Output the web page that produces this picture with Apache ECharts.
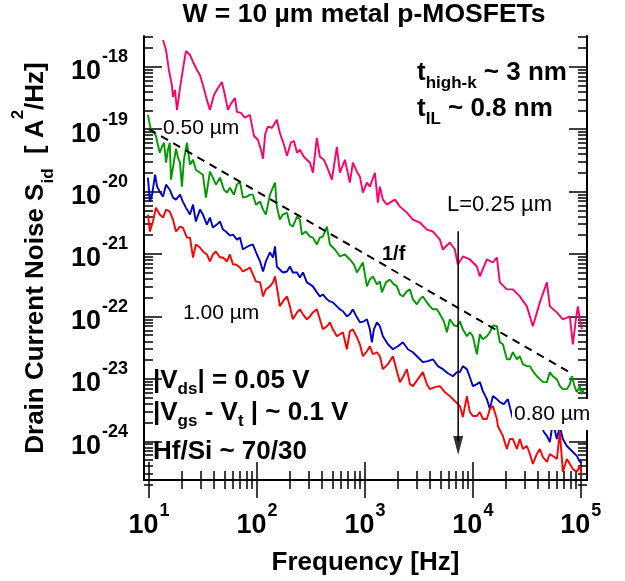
<!DOCTYPE html>
<html><head><meta charset="utf-8">
<script src="https://cdn.jsdelivr.net/npm/echarts@6/dist/echarts.min.js"></script>
<style>html,body{margin:0;padding:0;background:#fff}#c{width:625px;height:581px}</style>
</head><body><div id="c"></div>
<script>
// ---- data (frequency in Hz, noise in A^2/Hz) ----
const freqL025 = [13.5,14.4,15.3,16.3,16.7,17.4,18.2,19.4,20.6,22.0,24.0,25.6,27.8,29.7,31.6,34.4,36.7,40.0,43.6,47.4,50.5,53.9,57.4,62.6,65.3,71.1,77.4,86.1,93.8,102,109,114,119,126,138,153,163,178,190,206,220,235,250,272,290,310,330,359,383,417,445,495,550,587,653,726,774,843,899,958,1044,1112,1238,1319,1377,1468,1598,1704,1896,2109,2448,2783,3231,3751,4262,4950,5275,6124,6813,7260,8080,9380,10890,11610,13480,15320,16680,17780,20650,23460,27240,31620,35940,41730,48450,51640,59950,68130,79100,84300,89900,93800,97900,102200];
const noiseL025 = [2.67e-18,1.85e-18,8.86e-19,5.1e-19,3.28e-19,4.24e-19,2.03e-19,4.57e-19,8.86e-19,1.78e-18,1.54e-18,1.19e-18,8.86e-19,7.37e-19,5.1e-19,2.94e-19,2.03e-19,3.53e-19,4.57e-19,5.69e-19,3.53e-19,2.03e-19,2.54e-19,3.16e-19,1.89e-19,1.82e-19,1.52e-19,1.69e-19,7.82e-20,6.75e-20,4.67e-20,3.35e-20,8.11e-20,1.09e-19,1.05e-19,1.41e-19,8.73e-20,5.61e-20,3.75e-20,6.04e-20,6.50e-20,4.18e-20,4.67e-20,3.61e-20,3.23e-20,2.90e-20,2.00e-20,7.26e-20,3.61e-20,3.23e-20,2.50e-20,1.55e-20,5.21e-20,2.00e-20,3.23e-20,1.39e-20,2.90e-20,2.08e-20,1.73e-20,9.60e-21,1.39e-20,1.20e-20,2.00e-20,6.65e-21,1.20e-20,7.42e-21,6.18e-21,6.65e-21,7.42e-21,5.74e-21,4.60e-21,3.56e-21,3.19e-21,2.46e-21,2.29e-21,1.70e-21,1.18e-21,1.53e-21,1.18e-21,6.80e-22,9.12e-22,8.17e-22,6.31e-22,4.37e-22,8.17e-22,7.31e-22,8.79e-22,3.51e-22,2.71e-22,2.71e-22,2.09e-22,1.45e-22,6.95e-23,1.68e-22,3.51e-22,1.45e-22,1.16e-22,8.99e-23,1.0e-22,3.58e-23,8.99e-23,1.45e-22,8.99e-23,6.22e-23];

const freqL050 = [9.79,10.2,10.4,10.9,11.6,12.1,12.6,13.2,13.8,14.4,15.0,15.6,16.0,16.7,17.8,18.6,19.4,20.2,21.1,22.5,24.0,25.6,27.2,29.7,31.6,33.7,36.7,39.1,41.7,45.5,49.5,52.8,56.2,61.2,65.3,69.6,74.2,80.8,86.1,91.8,97.9,107,114,121,132,147,153,163,174,190,202,215,235,250,261,284,310,330,359,383,408,445,474,528,587,653,726,791,843,899,958,1044,1112,1186,1292,1377,1437,1565,1704,1817,1979,2109,2248,2448,2610,2783,3030,3231,3443,3751,3998,4262,4642,4950,5388,5745,6124,6670,7110,7580,8080,8800,9380,10000,10890,11610,12380,13480,14370,15320,16680,17780,18960,20650,22010,23460,25560,27240,29040,31620,33730,35940,39130,41730,44480,48450,51640,55040,59950,63900,68130,74200,79100,82500,88000,91800,97900,102200,106600];
const noiseL050 = [1.69e-19,1.17e-19,1.01e-19,9.06e-20,7.82e-20,5.61e-20,4.18e-20,5.21e-20,6.04e-20,2.90e-20,4.67e-20,6.04e-20,1.55e-20,2.41e-20,4.85e-20,3.48e-20,2.90e-20,1.20e-20,3.23e-20,6.04e-20,2.69e-20,3.23e-20,2.24e-20,2.00e-20,1.86e-20,7.99e-21,2.08e-20,1.67e-20,1.29e-20,1.67e-20,1.07e-20,9.60e-21,1.15e-20,8.92e-21,1.29e-20,1.44e-20,7.99e-21,8.29e-21,8.92e-21,8.92e-21,6.18e-21,6.90e-21,5.14e-21,4.28e-21,8.92e-21,1.39e-20,5.74e-21,3.56e-21,4.28e-21,4.60e-21,2.96e-21,2.75e-21,3.97e-21,3.56e-21,2.05e-21,2.29e-21,1.90e-21,1.83e-21,1.42e-21,1.83e-21,1.90e-21,2.75e-21,1.42e-21,1.18e-21,9.12e-22,9.82e-22,8.17e-22,6.80e-22,5.06e-22,6.08e-22,7.31e-22,3.03e-22,3.91e-22,4.37e-22,3.26e-22,3.64e-22,2.43e-22,3.51e-22,3.91e-22,3.38e-22,3.03e-22,2.25e-22,2.09e-22,2.52e-22,2.71e-22,1.88e-22,1.56e-22,1.88e-22,2.09e-22,1.68e-22,1.45e-22,1.30e-22,1.30e-22,1.08e-22,8.35e-23,5.57e-23,8.99e-23,7.21e-23,6.95e-23,8.35e-23,6.22e-23,4.81e-23,5.57e-23,4.81e-23,2.48e-23,5.18e-23,4.31e-23,4.81e-23,5.57e-23,7.21e-23,6.95e-23,3.86e-23,3.58e-23,2.06e-23,2.06e-23,2.67e-23,2.06e-23,2.30e-23,1.72e-23,1.60e-23,1.60e-23,1.33e-23,1.10e-23,9.89e-24,8.86e-24,8.86e-24,1.28e-23,1.10e-23,9.89e-24,7.64e-24,6.85e-24,6.85e-24,8.23e-24,1.10e-23,7.37e-24,6.13e-24,7.64e-24,5.69e-24,6.85e-24];

const freqL080 = [9.79,10.2,10.7,11.4,11.9,12.6,13.5,14.4,15.6,16.7,17.8,19.4,20.6,22.0,24.0,25.6,27.2,29.7,31.6,34.4,36.7,39.1,42.6,45.5,48.5,51.6,56.2,60.0,65.3,69.6,74.2,79.1,86.1,91.8,100,107,114,121,126,132,141,147,153,163,174,190,202,215,235,250,267,290,310,330,359,383,408,445,474,505,550,587,626,681,726,774,843,899,979,1044,1112,1161,1211,1292,1377,1468,1633,1817,2021,2248,2501,2783,3095,3443,3831,4262,4743,5275,5868,6530,7110,7580,8080,8800,9380,10000,10890,11610,12380,13480,14370,15320,16680,17780,19360,21090,23460,25560,28420,31620,35170,39130,41730,45450,48450,51640,55040,59950,63900,68130,74200,79100,84300,91800,97900,102200];
const noiseL080 = [1.67e-20,6.90e-21,8.92e-21,1.86e-20,1.20e-20,9.96e-21,8.29e-21,1.29e-20,1.07e-20,7.99e-21,7.42e-21,8.92e-21,6.90e-21,5.53e-21,4.28e-21,6.18e-21,3.31e-21,5.14e-21,4.28e-21,2.96e-21,3.83e-21,2.65e-21,2.96e-21,3.31e-21,2.46e-21,2.29e-21,1.97e-21,2.05e-21,1.70e-21,1.83e-21,1.18e-21,1.27e-21,1.37e-21,1.42e-21,9.82e-22,7.59e-22,5.25e-22,7.59e-22,8.17e-22,1.06e-21,8.79e-22,1.32e-21,6.31e-22,5.65e-22,5.06e-22,5.25e-22,6.31e-22,5.06e-22,5.06e-22,4.21e-22,5.06e-22,3.51e-22,3.26e-22,3.03e-22,2.43e-22,2.09e-22,2.25e-22,1.88e-22,1.74e-22,1.68e-22,1.45e-22,1.30e-22,1.21e-22,1.0e-22,1.08e-22,1.30e-22,9.67e-23,8.05e-23,8.35e-23,8.99e-23,6.22e-23,3.86e-23,6.22e-23,8.05e-23,6.95e-23,4.81e-23,3.58e-23,2.98e-23,3.33e-23,3.86e-23,2.98e-23,2.67e-23,2.22e-23,1.85e-23,1.92e-23,2.06e-23,1.60e-23,1.43e-23,1.23e-23,1.10e-23,1.28e-23,1.28e-23,1.60e-23,1.43e-23,1.06e-23,7.64e-24,8.23e-24,8.86e-24,6.36e-24,4.74e-24,3.28e-24,5.29e-24,4.74e-24,4.24e-24,3.94e-24,4.74e-24,2.27e-24,1.76e-24,1.69e-24,1.57e-24,1.57e-24,1.57e-24,2.03e-24,1.41e-24,1.22e-24,9.75e-25,2.03e-24,1.09e-24,1.76e-24,1.09e-24,8.41e-25,7.53e-25,6.75e-25,5.83e-25,4.67e-25,4.67e-25];

const freqL100 = [9.79,10.2,10.9,11.6,12.6,13.5,14.4,15.6,16.7,17.8,19.4,20.6,22.5,24.0,25.6,27.2,29.7,31.6,34.4,36.7,39.1,41.7,45.5,48.5,52.8,56.2,60.0,63.9,69.6,74.2,80.8,86.1,91.8,97.9,107,114,121,132,141,147,157,163,174,190,202,215,235,250,267,290,310,330,359,383,408,445,474,505,550,587,626,681,726,774,843,899,958,1044,1112,1186,1292,1377,1468,1633,1817,1979,2109,2248,2448,2610,2783,3095,3443,3751,3998,4448,4950,5504,6124,6813,7580,8080,8800,9380,10000,10890,11610,12380,13480,14370,15320,16680,17040,18960,20650,22010,23460,25560,27240,29040,31620,33730,35940,39130,41730,44480,48450,51640,55040,59950,63900,68130,74200,79100,84300,91800,97900,102200];
const noiseL100 = [4.28e-21,2.29e-21,3.31e-21,5.53e-21,4.28e-21,3.83e-21,5.14e-21,4.78e-21,3.56e-21,2.29e-21,2.75e-21,2.65e-21,1.83e-21,1.83e-21,8.79e-22,1.42e-21,1.27e-21,1.10e-21,9.82e-22,7.59e-22,9.82e-22,1.10e-21,8.79e-22,8.79e-22,7.59e-22,9.82e-22,6.80e-22,6.80e-22,6.08e-22,5.25e-22,5.65e-22,6.08e-22,4.71e-22,3.64e-22,3.51e-22,2.09e-22,2.71e-22,3.03e-22,3.51e-22,4.37e-22,2.25e-22,1.45e-22,1.74e-22,2.09e-22,1.45e-22,8.99e-23,1.16e-22,1.30e-22,1.08e-22,8.99e-23,1.0e-22,1.16e-22,1.30e-22,8.99e-23,6.22e-23,6.95e-23,8.05e-23,6.22e-23,4.81e-23,5.18e-23,5.57e-23,2.98e-23,5.78e-23,6.22e-23,4.64e-23,3.58e-23,2.30e-23,2.77e-23,3.33e-23,2.48e-23,2.67e-23,2.30e-23,1.43e-23,1.72e-23,2.30e-23,1.33e-23,8.86e-24,1.06e-23,1.43e-23,8.23e-24,7.64e-24,9.89e-24,1.28e-23,8.23e-24,6.85e-24,7.37e-24,7.64e-24,6.13e-24,5.29e-24,4.40e-24,3.66e-24,2.44e-24,5.29e-24,2.94e-24,2.54e-24,2.54e-24,2.94e-24,2.27e-24,2.27e-24,3.28e-24,3.66e-24,2.27e-24,1.76e-24,1.22e-24,7.53e-25,1.09e-24,1.09e-24,7.53e-25,1.09e-24,7.53e-25,8.41e-25,6.27e-25,4.34e-25,6.27e-25,7.53e-25,5.61e-25,4.67e-25,6.27e-25,5.83e-25,5.21e-25,1.41e-24,3.23e-25,5.21e-25,4.34e-25,3.61e-25,3.23e-25,4.03e-25,2.79e-25];

// 1/f guide line and the "decreasing L" arrow
const guideFreq = [10, 85000];
const guideNoise = [1.0e-19, 1.18e-23];
const arrowFreq = [7310, 7310];
const arrowNoise = [2.31e-21, 1.0e-24];
const arrowHeadNoise = [8.6e-25];

// axes
const xRange = [9, 1.14e5];
const yRange = [2.4e-25, 3.1e-18];
const xMajorTicks = [10, 100, 1000, 10000, 100000];
const xTickExp = ['1', '2', '3', '4', '5'];
const yMajorTicks = [1e-24, 1e-23, 1e-22, 1e-21, 1e-20, 1e-19, 1e-18];
const yTickExp = ['-24', '-23', '-22', '-21', '-20', '-19', '-18'];
const minorSteps = [2, 3, 4, 5, 6, 7, 8, 9];
const xDecades = [10, 100, 1000, 10000];
const yDecades = [1e-25, 1e-24, 1e-23, 1e-22, 1e-21, 1e-20, 1e-19, 1e-18];

const xMinorTicks = [];
xDecades.forEach(d => minorSteps.forEach(k => xMinorTicks.push(k * d)));
const yMinorTicks = [];
yDecades.forEach(d => minorSteps.forEach(k => yMinorTicks.push(k * d)));

const FONT = "'Liberation Sans', Arial, Helvetica, sans-serif";

function pair(fs, vs) { return fs.map((f, i) => [f, vs[i]]); }
function expFor(v, majors, exps) {
  let best = 0, bd = 1e9;
  majors.forEach((m, i) => { const d = Math.abs(Math.log10(m) - Math.log10(v)); if (d < bd) { bd = d; best = i; } });
  return exps[best];
}
const tickRich = {
  b: { fontSize: 27, fontWeight: 'bold', fontFamily: FONT, color: '#000', verticalAlign: 'top', padding: [10, 0, 0, 0] },
  s: { fontSize: 18, fontWeight: 'bold', fontFamily: FONT, color: '#000', verticalAlign: 'top', padding: [0, 0, 0, 1] }
};

function xAx(pos, ticks, len, major) {
  return {
    type: 'log', logBase: 10, min: xRange[0], max: xRange[1], position: pos,
    axisLine: { show: major, lineStyle: { color: '#000', width: 2 } },
    axisTick: { show: true, inside: true, length: len, customValues: ticks, lineStyle: { color: '#000', width: 1.5 } },
    axisLabel: (major && pos === 'bottom') ? {
      show: true, customValues: xMajorTicks, margin: 22,
      formatter: v => '{b|10}{s|' + expFor(v, xMajorTicks, xTickExp) + '}', rich: tickRich
    } : { show: false },
    splitLine: { show: false }, minorTick: { show: false },
    name: (major && pos === 'bottom') ? 'Frequency [Hz]' : '',
    nameLocation: 'middle', nameGap: 70,
    nameTextStyle: { fontSize: 26, fontWeight: 'bold', fontFamily: FONT, color: '#000' }
  };
}
function yAx(pos, ticks, len, major) {
  const main = major && pos === 'left';
  return {
    type: 'log', logBase: 10, min: yRange[0], max: yRange[1], position: pos,
    axisLine: { show: major, lineStyle: { color: '#000', width: 2 } },
    axisTick: { show: true, inside: true, length: len, customValues: ticks, lineStyle: { color: '#000', width: 1.5 } },
    axisLabel: main ? {
      show: true, customValues: yMajorTicks, margin: 16,
      formatter: v => '{b|10}{s|' + expFor(v, yMajorTicks, yTickExp) + '}', rich: tickRich
    } : { show: false },
    splitLine: { show: false }, minorTick: { show: false },
    name: main ? '{m|Drain Current Noise S}{sub|id}{m|  [ A}{sup|2}{m|/Hz]}' : '',
    nameLocation: 'middle', nameGap: 87, nameRotate: 90,
    nameTextStyle: main ? {
      rich: {
        m: { fontSize: 26, fontWeight: 'bold', fontFamily: FONT, color: '#000', verticalAlign: 'top', padding: [13, 0, 0, 0] },
        sup: { fontSize: 17, fontWeight: 'bold', fontFamily: FONT, color: '#000', verticalAlign: 'top' },
        sub: { fontSize: 17, fontWeight: 'bold', fontFamily: FONT, color: '#000', verticalAlign: 'top', padding: [30, 0, 0, 0] }
      }
    } : {}
  };
}

function lineSeries(name, fs, vs, color) {
  return {
    name, type: 'line', xAxisIndex: 0, yAxisIndex: 0, data: pair(fs, vs),
    showSymbol: false, symbol: 'none', lineStyle: { color, width: 1.9 }, itemStyle: { color },
    z: 2, silent: true
  };
}

// title position: centered over the plot box
const titleText = 'W = 10 µm metal p-MOSFETs';
const titleFont = 'bold 26.5px ' + FONT;
const mctx = document.createElement('canvas').getContext('2d');
mctx.font = titleFont;
const titleW = mctx.measureText(titleText).width;

const chart = echarts.init(document.getElementById('c'), null, { renderer: 'canvas' });

const bold = (size) => ({ fontSize: size, fontWeight: 'bold', fontFamily: FONT, fill: '#000', verticalAlign: 'top' });
const subSt = (size, pad) => ({ fontSize: size, fontWeight: 'bold', fontFamily: FONT, fill: '#000', verticalAlign: 'top', padding: [pad, 0, 0, 0] });
function richText(x, y, text, rich) {
  return { type: 'text', x, y, z: 100, style: { text, rich, textAlign: 'left', textVerticalAlign: 'top', fill: '#000' } };
}
function plainText(x, y, text, font, extra) {
  return { type: 'text', x, y, z: 100, style: Object.assign({ text, font, fill: '#000', textAlign: 'left', textVerticalAlign: 'middle' }, extra || {}) };
}

chart.setOption({
  animation: false,
  backgroundColor: '#fff',
  title: {
    text: titleText, left: 364 - titleW / 2, top: 1, padding: 0,
    textStyle: { fontSize: 26.5, fontWeight: 'bold', fontFamily: FONT, color: '#000' }
  },
  grid: { left: 144, right: 38, top: 36, bottom: 100 },
  xAxis: [
    xAx('bottom', xMajorTicks, 18, true), xAx('bottom', xMinorTicks, 9, false),
    xAx('top', xMajorTicks, 18, true), xAx('top', xMinorTicks, 9, false)
  ],
  yAxis: [
    yAx('left', yMajorTicks, 18, true), yAx('left', yMinorTicks, 9, false),
    yAx('right', yMajorTicks, 18, true), yAx('right', yMinorTicks, 9, false)
  ],
  series: [
    lineSeries('L = 0.25 µm', freqL025, noiseL025, '#ff0066'),
    lineSeries('L = 0.50 µm', freqL050, noiseL050, '#009900'),
    lineSeries('L = 0.80 µm', freqL080, noiseL080, '#0000cc'),
    lineSeries('L = 1.00 µm', freqL100, noiseL100, '#ff0000'),
    { name: '1/f', type: 'line', data: pair(guideFreq, guideNoise), showSymbol: false, symbol: 'none',
      lineStyle: { color: '#000', width: 2, type: [8, 6] }, z: 3, silent: true },
    { name: 'arrow', type: 'line', data: pair(arrowFreq, arrowNoise), showSymbol: false, symbol: 'none',
      lineStyle: { color: '#000', width: 1.5 }, z: 4, silent: true },
    { name: 'arrowHead', type: 'scatter', data: pair([arrowFreq[0]], arrowHeadNoise), symbol: 'triangle',
      symbolSize: [10, 19], symbolRotate: 180, itemStyle: { color: '#000' }, z: 4, silent: true }
  ],
  graphic: [
    richText(417, 59.5, '{m|t}{sub|high-k}{m| ~ 3 nm}', { m: bold(26), sub: subSt(17, 15) }),
    richText(417, 95.5, '{m|t}{sub|IL}{m| ~ 0.8 nm}', { m: bold(26), sub: subSt(17, 15) }),
    richText(153, 368, '{m||V}{sub|ds}{m|| = 0.05 V}', { m: bold(26), sub: subSt(17, 13) }),
    richText(153, 399.7, '{m||V}{sub|gs}{m| - V}{sub|t}{m| | ~ 0.1 V}', { m: bold(26), sub: subSt(17, 13) }),
    plainText(153, 451.5, 'Hf/Si ~ 70/30', 'bold 26px ' + FONT),
    plainText(163, 128, '0.50 µm', '21px ' + FONT),
    plainText(447, 205, 'L=0.25 µm', '22px ' + FONT),
    plainText(183, 313, '1.00 µm', '21px ' + FONT),
    plainText(382, 254.5, '1/f', 'bold 20px ' + FONT),
    plainText(512, 414.5, '0.80 µm', '21px ' + FONT, { backgroundColor: '#fff', padding: [5, 2, 5, 2] })
  ]
});
</script></body></html>
